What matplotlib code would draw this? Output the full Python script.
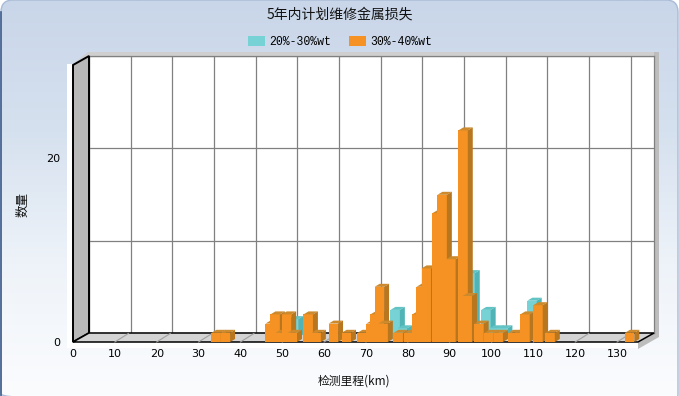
import numpy as np
import matplotlib
matplotlib.use('Agg')
import matplotlib.pyplot as plt
from matplotlib.patches import FancyBboxPatch, Patch, Polygon

plt.rcParams['font.family'] = ['Noto Sans CJK SC', 'DejaVu Sans']

title = '5年内计划维修金属损失'
xlabel = '检测里程(km)'
ylabel = '数量'
series_names = ['20%-30%wt', '30%-40%wt']
x_ticks = [0, 10, 20, 30, 40, 50, 60, 70, 80, 90, 100, 110, 120, 130]
y_ticks = [0, 20]

teal_km = [51.0, 75.3, 77.0, 93.2, 97.0, 98.9, 101.0, 108.0]
teal_n = [2, 3, 1, 7, 3, 1, 1, 4]

orange_km = [34.2, 36.4, 47.1, 48.3, 49.5, 51.0, 52.4, 56.2, 58.1, 62.2, 65.3, 69.1,
             71.2, 72.2, 73.2, 74.1, 77.7, 80.3, 82.2, 83.2, 84.4, 87.0, 88.2, 90.3,
             93.2, 94.2, 97.0, 99.4, 101.6, 105.1, 106.6, 108.0, 111.1, 114.0, 133.0]
orange_n = [1, 1, 2, 3, 1, 3, 1, 3, 1, 2, 1, 1,
            2, 3, 6, 2, 1, 1, 3, 6, 8, 14, 16, 9,
            23, 5, 2, 1, 1, 1, 1, 3, 4, 1, 1]

W, H = 679, 396
bar_w = 2.25
px_x = 565 / 135
px_y = 276 / 30

fig = plt.figure(figsize=(W / 100, H / 100), dpi=100, facecolor='white')


def box(l, t, r, b):
    return [l / W, 1 - b / H, (r - l) / W, (b - t) / H]


def pxfig(pts):
    return [(x / W, 1 - y / H) for x, y in pts]


# background gradient with rounded corners
bg = fig.add_axes([0, 0, 1, 1], zorder=0)
bg.set_xlim(0, W)
bg.set_ylim(H, 0)
bg.axis('off')
grad = np.linspace(0, 1, 256).reshape(-1, 1)
cmap = matplotlib.colors.LinearSegmentedColormap.from_list(
    'bg', ['#c9d6e9', '#d6e1ef', '#eef3f9', '#fbfcfe'])
im = bg.imshow(grad, cmap=cmap, extent=[0, W, H, 0], aspect='auto')
rim = FancyBboxPatch((1, 0), W - 2, H + 10, boxstyle='round,pad=0,rounding_size=12',
                     fc='none', ec='#a9bbd6', lw=1)
bg.add_patch(rim)
im.set_clip_path(rim)
bg.plot([1, 1], [12, H], color='#3f5f8f', lw=1.2)

# gray shadow / white strip round the plot box
fig.add_artist(Polygon(pxfig([(67, 64), (73, 64), (73, 342), (638, 342), (638, 348), (67, 348)]),
                       fc='white', ec='none', zorder=0.5))
fig.add_artist(Polygon(pxfig([(73, 64), (88, 52), (654, 52), (654, 56), (89, 56)]),
                       fc='#cfcfcf', ec='none', zorder=0.6))
fig.add_artist(Polygon(pxfig([(654, 52), (659, 52), (659, 337), (638, 349), (638, 342), (654, 333)]),
                       fc='#bdbdbd', ec='none', zorder=0.6))

# back wall
back = fig.add_axes(box(89, 56, 654, 333), zorder=1)
back.set_xlim(0, 135.6)
back.set_ylim(0, 30)
back.set_xticks(x_ticks)
back.set_yticks([10, 20, 30])
back.grid(True, color='#808080', lw=0.9)
back.tick_params(length=0, labelbottom=False, labelleft=False)
back.set_axisbelow(True)
for s in back.spines.values():
    s.set_color('#808080')
    s.set_linewidth(0.9)

# side wall and floor
fig.add_artist(Polygon(pxfig([(73, 342), (89, 333), (89, 56), (73, 65)]),
                       fc='#b9b9b9', ec='black', lw=1.4, zorder=1.5))
fig.add_artist(Polygon(pxfig([(73, 342), (638, 342), (654, 333), (89, 333)]),
                       fc='#d4d4d4', ec='black', lw=1.1, zorder=1.5))

ax = fig.add_axes(box(73, 66, 638, 342), zorder=2)
ax.patch.set_alpha(0)
ax.set_xlim(0, 135)
ax.set_ylim(0, 30)
for s in ax.spines.values():
    s.set_visible(False)
ax.set_xticks(x_ticks)
ax.set_xticklabels([str(v) for v in x_ticks], fontsize=8, family='DejaVu Sans')
ax.set_yticks(y_ticks)
ax.set_yticklabels([str(v) for v in y_ticks], fontsize=8, family='DejaVu Sans')
ax.tick_params(axis='x', length=0, pad=5)
ax.tick_params(axis='y', length=0, pad=9)

# floor tick diagonals
for k in x_ticks[1:]:
    ax.plot([k, k + 13.5 / px_x], [0, 8.5 / px_y], color='#a0a0a0', lw=0.8, clip_on=False, zorder=1)


def bars3d(km, n, face, top, side, back_x=0.0, back_y=0.0, z0=2.0):
    dx = 5 / px_x
    dy = 3 / px_y
    for i, (c, v) in enumerate(zip(km, n)):
        z = z0 + i * 0.01
        l = c - bar_w / 2 + back_x
        r = c + bar_w / 2 + back_x
        lo = back_y
        hi = v + back_y
        ax.bar(l, hi - lo, bottom=lo, width=r - l, align='edge', color=face, lw=0, zorder=z, clip_on=False)
        ax.fill([l, r, r + dx, l + dx], [hi, hi, hi + dy, hi + dy], color=top, lw=0, zorder=z, clip_on=False)
        ax.fill([r, r + dx, r + dx, r], [lo, lo + dy, hi + dy, hi], color=side, lw=0, zorder=z, clip_on=False)


bars3d(teal_km, teal_n, '#76d2d5', '#62c3c5', '#50b4b6', back_x=7 / px_x, back_y=4.5 / px_y, z0=2)
bars3d(orange_km, orange_n, '#f69223', '#cd8a2d', '#b8761f', z0=3)

fig.text(340 / W, 1 - 14 / H, title, ha='center', va='center', fontsize=10, color='#111111')
fig.text(354 / W, 1 - 381 / H, xlabel, ha='center', va='center', fontsize=8.5, color='#111111')
fig.text(23 / W, 1 - 205 / H, ylabel, ha='center', va='center', rotation=90, fontsize=9, color='#111111')

handles = [Patch(fc='#76d2d5', ec='none'), Patch(fc='#f69223', ec='none')]
fig.legend(handles, series_names, ncol=2, frameon=False, loc='center',
           bbox_to_anchor=(340 / W, 1 - 42 / H), handlelength=1.45, handleheight=0.95,
           handletextpad=0.35, columnspacing=1.6,
           prop={'family': 'Liberation Mono', 'size': 8.3})

fig.savefig('out.png', dpi=100)
